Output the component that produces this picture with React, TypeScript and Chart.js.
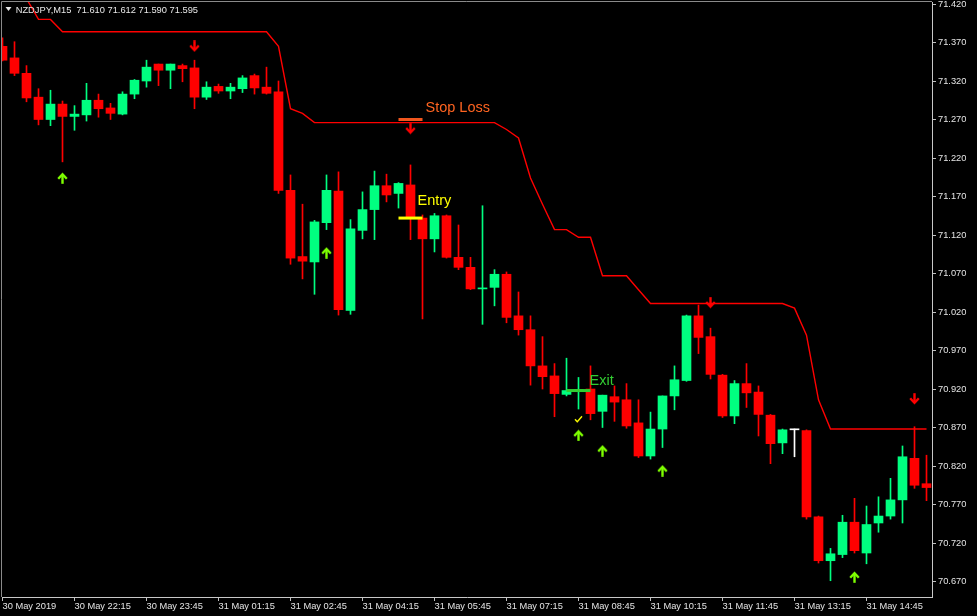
import React, { useEffect, useRef } from 'react';
import { Chart, registerables } from 'chart.js';

Chart.register(...registerables);

// ---------- data (NZDJPY M15, bar index 0 = 30 May 2019 20:45) ----------
const openPrices = [
  71.365, 71.350, 71.330, 71.299, 71.270, 71.290, 71.274, 71.276, 71.295, 71.285,
  71.277, 71.303, 71.320, 71.342, 71.334, 71.340, 71.337, 71.299, 71.313, 71.307,
  71.310, 71.327, 71.312, 71.306, 71.178, 71.092, 71.085, 71.136, 71.177, 71.022,
  71.126, 71.153, 71.184, 71.174, 71.185, 71.142, 71.115, 71.145, 71.091, 71.078,
  71.050, 71.052, 71.069, 71.015, 70.997, 70.950, 70.937, 70.913, 70.918, 70.920,
  70.891, 70.910, 70.906, 70.876, 70.833, 70.868, 70.911, 70.931, 71.015, 70.988,
  70.938, 70.885, 70.927, 70.916, 70.886, 70.850, 70.867, 70.866, 70.754, 70.697,
  70.705, 70.747, 70.707, 70.746, 70.755, 70.776, 70.830, 70.797,
];
const highPrices = [
  71.376, 71.371, 71.340, 71.310, 71.308, 71.294, 71.288, 71.317, 71.303, 71.291,
  71.306, 71.322, 71.347, 71.342, 71.342, 71.342, 71.347, 71.319, 71.316, 71.317,
  71.327, 71.329, 71.338, 71.320, 71.198, 71.160, 71.139, 71.198, 71.202, 71.140,
  71.176, 71.203, 71.199, 71.188, 71.211, 71.146, 71.148, 71.146, 71.133, 71.091,
  71.158, 71.075, 71.072, 71.046, 71.015, 70.988, 70.953, 70.960, 70.935, 70.950,
  70.912, 70.924, 70.927, 70.906, 70.890, 70.911, 70.950, 71.016, 71.029, 70.999,
  70.939, 70.931, 70.953, 70.924, 70.887, 70.868, 70.868, 70.867, 70.755, 70.713,
  70.756, 70.778, 70.768, 70.780, 70.804, 70.846, 70.871, 70.834,
];
const lowPrices = [
  71.346, 71.327, 71.293, 71.263, 71.262, 71.215, 71.256, 71.268, 71.273, 71.270,
  71.276, 71.297, 71.312, 71.314, 71.310, 71.319, 71.284, 71.296, 71.304, 71.297,
  71.305, 71.303, 71.303, 71.174, 71.082, 71.063, 71.043, 71.127, 71.016, 71.017,
  71.115, 71.114, 71.163, 71.155, 71.114, 71.011, 71.098, 71.090, 71.075, 71.049,
  71.004, 71.028, 71.006, 70.990, 70.925, 70.920, 70.884, 70.911, 70.894, 70.880,
  70.870, 70.878, 70.869, 70.831, 70.829, 70.844, 70.893, 70.930, 70.966, 70.933,
  70.883, 70.875, 70.896, 70.859, 70.823, 70.836, 70.832, 70.751, 70.694, 70.671,
  70.701, 70.707, 70.693, 70.734, 70.751, 70.746, 70.791, 70.775,
];
const closePrices = [
  71.347, 71.330, 71.298, 71.270, 71.290, 71.274, 71.277, 71.295, 71.284, 71.278,
  71.303, 71.321, 71.338, 71.334, 71.342, 71.336, 71.299, 71.312, 71.307, 71.312,
  71.324, 71.311, 71.304, 71.178, 71.090, 71.086, 71.137, 71.178, 71.023, 71.128,
  71.153, 71.184, 71.172, 71.187, 71.142, 71.115, 71.145, 71.091, 71.078, 71.050,
  71.051, 71.069, 71.013, 70.997, 70.950, 70.936, 70.914, 70.918, 70.919, 70.888,
  70.912, 70.903, 70.872, 70.833, 70.868, 70.911, 70.932, 71.015, 70.987, 70.939,
  70.885, 70.927, 70.915, 70.887, 70.849, 70.867, 70.867, 70.754, 70.697, 70.706,
  70.747, 70.710, 70.744, 70.755, 70.776, 70.832, 70.795, 70.792,
];
const trailingStop = [
  71.427, 71.427, 71.427, 71.400, 71.400, 71.384, 71.384, 71.384, 71.384, 71.384,
  71.384, 71.384, 71.384, 71.384, 71.384, 71.384, 71.384, 71.384, 71.384, 71.384,
  71.384, 71.384, 71.384, 71.365, 71.284, 71.278, 71.266, 71.266, 71.266, 71.266,
  71.266, 71.266, 71.266, 71.266, 71.266, 71.266, 71.266, 71.266, 71.266, 71.266,
  71.266, 71.266, 71.257, 71.246, 71.194, 71.160, 71.127, 71.127, 71.117, 71.117,
  71.067, 71.067, 71.067, 71.049, 71.031, 71.031, 71.031, 71.031, 71.031, 71.031,
  71.031, 71.031, 71.031, 71.031, 71.031, 71.031, 71.025, 70.990, 70.906, 70.868,
  70.868, 70.868, 70.868, 70.868, 70.868, 70.868, 70.868, 70.868,
];

const upArrowBars = [5, 27, 48, 50, 55, 71];
const upArrowPrices = [71.194, 71.097, 70.860, 70.840, 70.814, 70.676];
const downArrowBars = [16, 34, 59, 76];
const downArrowPrices = [71.365, 71.258, 71.032, 70.907];
const checkBars = [48];
const checkPrices = [70.881];

const levelNames = ['Stop Loss', 'Entry', 'Exit'];
const levelPrices = [71.270, 71.142, 70.918];
const levelStartBars = [33, 33, 47];
const levelEndBars = [35, 35, 49];

const xTickBars = [0, 6, 12, 18, 24, 30, 36, 42, 48, 54, 60, 66, 72];
const xTickLabels = [
  '30 May 2019', '30 May 22:15', '30 May 23:45', '31 May 01:15', '31 May 02:45',
  '31 May 04:15', '31 May 05:45', '31 May 07:15', '31 May 08:45', '31 May 10:15',
  '31 May 11:45', '31 May 13:15', '31 May 14:45',
];
const yTickValues = [
  70.670, 70.720, 70.770, 70.820, 70.870, 70.920, 70.970, 71.020,
  71.070, 71.120, 71.170, 71.220, 71.270, 71.320, 71.370, 71.420,
];
const titleText = 'NZDJPY,M15  71.610 71.612 71.590 71.595';

const yMin = 70.64987;
const yMax = 71.4226;
const xMin = -1 / 24;
const xMax = 77.5 - 1 / 24;

// ---------- styles ----------
const BULL = '#00FF80';
const BEAR = '#FF0000';
const DOJI = '#FFFFFF';
const AXIS_FONT = { family: "'Liberation Sans', Arial, sans-serif", size: 9.3 };
const LABEL_COLOR = '#E4E4E4';
const levelLineColors = ['#F0561E', '#FFFF00', '#32CD32'];
const levelTextColors = ['#FF6420', '#FFFF00', '#32CD32'];
const levelTextDx = [3, -5, -1];
const levelTextDy = [-7.4, -13.4, -5.5];

function makeArrow(color: string, up: boolean): HTMLCanvasElement {
  const c = document.createElement('canvas');
  c.width = 11;
  c.height = 12;
  const g = c.getContext('2d')!;
  if (!up) {
    g.translate(0, 12);
    g.scale(1, -1);
  }
  g.strokeStyle = color;
  g.lineWidth = 2.4;
  g.beginPath();
  g.moveTo(5.5, 3);
  g.lineTo(5.5, 11.8);
  g.stroke();
  g.beginPath();
  g.moveTo(1.2, 6.8);
  g.lineTo(5.5, 2.2);
  g.lineTo(9.8, 6.8);
  g.stroke();
  return c;
}

function makeCheck(color: string): HTMLCanvasElement {
  const c = document.createElement('canvas');
  c.width = 9;
  c.height = 8;
  const g = c.getContext('2d')!;
  g.strokeStyle = color;
  g.lineWidth = 1.4;
  g.beginPath();
  g.moveTo(1, 4.2);
  g.lineTo(3.3, 6.8);
  g.lineTo(8, 1.2);
  g.stroke();
  return c;
}

const overlayPlugin = {
  id: 'mt4Overlay',
  beforeDraw(chart: any) {
    const { ctx, width, height } = chart;
    ctx.save();
    ctx.fillStyle = '#000000';
    ctx.fillRect(0, 0, width, height);
    ctx.restore();
  },
  afterDraw(chart: any) {
    const { ctx, chartArea: a, scales } = chart;
    ctx.save();
    ctx.strokeStyle = '#8A8A8A';
    ctx.lineWidth = 1;
    ctx.beginPath();
    ctx.moveTo(a.left - 0.5, a.bottom);
    ctx.lineTo(a.left - 0.5, a.top - 0.5);
    ctx.lineTo(a.right, a.top - 0.5);
    ctx.stroke();

    ctx.font = "14.5px 'Liberation Sans', Arial, sans-serif";
    ctx.textAlign = 'left';
    ctx.textBaseline = 'alphabetic';
    levelNames.forEach((name, k) => {
      const x = scales.x.getPixelForValue(levelEndBars[k]) + levelTextDx[k];
      const y = scales.y.getPixelForValue(levelPrices[k]) + levelTextDy[k];
      ctx.fillStyle = levelTextColors[k];
      ctx.fillText(name, x, y);
    });

    // title
    ctx.fillStyle = '#E8E8E8';
    ctx.beginPath();
    ctx.moveTo(5.5, 7);
    ctx.lineTo(11.5, 7);
    ctx.lineTo(8.5, 11);
    ctx.closePath();
    ctx.fill();
    ctx.font = "9.3px 'Liberation Sans', Arial, sans-serif";
    ctx.fillText(titleText, 15.7, 12.6);
    ctx.restore();
  },
};

export default function App() {
  const ref = useRef<HTMLCanvasElement>(null);

  useEffect(() => {
    document.body.style.margin = '0';
    document.body.style.background = '#000';
    const canvas = ref.current;
    if (!canvas) return;

    const idx = openPrices.map((_, i) => i);
    const colors = idx.map((i) =>
      closePrices[i] > openPrices[i] ? BULL : closePrices[i] < openPrices[i] ? BEAR : DOJI
    );
    const upImg = makeArrow('#7FFF00', true);
    const downImg = makeArrow('#FF0000', false);
    const checkImg = makeCheck('#FFFF00');

    const levelDatasets = levelNames.map((name, k) => ({
      type: 'line' as const,
      label: name,
      data: [
        { x: levelStartBars[k], y: levelPrices[k] },
        { x: levelEndBars[k], y: levelPrices[k] },
      ],
      borderColor: levelLineColors[k],
      borderWidth: 3,
      pointRadius: 0,
      order: 0,
    }));

    const chart = new Chart(canvas, {
      type: 'bar',
      data: {
        datasets: [
          {
            type: 'line',
            label: 'Trailing stop',
            data: idx.map((i) => ({ x: i, y: trailingStop[i] })),
            borderColor: '#FF0000',
            borderWidth: 1.4,
            pointRadius: 0,
            tension: 0,
            order: 3,
          },
          {
            type: 'bar',
            label: 'Wicks',
            data: idx.map((i) => ({ x: i, y: [lowPrices[i], highPrices[i]] })),
            backgroundColor: colors,
            borderWidth: 0,
            barThickness: 1,
            grouped: false,
            order: 2,
          },
          {
            type: 'bar',
            label: 'Bodies',
            data: idx.map((i) => ({ x: i, y: [openPrices[i], closePrices[i]] })),
            backgroundColor: colors,
            borderWidth: 0,
            barThickness: 9,
            minBarLength: 1,
            grouped: false,
            order: 1,
          },
          ...levelDatasets,
          {
            type: 'line',
            label: 'Up arrows',
            data: upArrowBars.map((b, k) => ({ x: b, y: upArrowPrices[k] })),
            showLine: false,
            pointStyle: upImg,
            pointRadius: 5,
            order: 0,
          },
          {
            type: 'line',
            label: 'Down arrows',
            data: downArrowBars.map((b, k) => ({ x: b, y: downArrowPrices[k] })),
            showLine: false,
            pointStyle: downImg,
            pointRadius: 5,
            order: 0,
          },
          {
            type: 'line',
            label: 'Exit mark',
            data: checkBars.map((b, k) => ({ x: b, y: checkPrices[k] })),
            showLine: false,
            pointStyle: checkImg,
            pointRadius: 5,
            order: 0,
          },
        ] as any,
      },
      options: {
        responsive: false,
        animation: false,
        devicePixelRatio: 1,
        events: [],
        layout: { autoPadding: false, padding: { left: 2, top: 2, right: 0, bottom: 0 } },
        plugins: { legend: { display: false }, tooltip: { enabled: false }, title: { display: false } },
        scales: {
          x: {
            type: 'linear',
            min: xMin,
            max: xMax,
            offset: false,
            afterFit: (s: any) => {
              s.height = 19;
              s.paddingLeft = 0;
              s.paddingRight = 0;
              s.paddingTop = 0;
              s.paddingBottom = 0;
            },
            afterBuildTicks: (s: any) => {
              s.ticks = xTickBars.map((v) => ({ value: v }));
            },
            ticks: {
              callback: (_v: any, i: number) => xTickLabels[i],
              align: 'start',
              maxRotation: 0,
              minRotation: 0,
              autoSkip: false,
              padding: 0,
              color: LABEL_COLOR,
              font: AXIS_FONT,
            },
            grid: { drawOnChartArea: false, drawTicks: true, tickLength: 4, color: '#C0C0C0', offset: false },
            border: { display: true, color: '#C8C8C8', width: 1 },
          },
          y: {
            type: 'linear',
            position: 'right',
            min: yMin,
            max: yMax,
            afterFit: (s: any) => {
              s.width = 45;
              s.paddingTop = 0;
              s.paddingBottom = 0;
              s.paddingLeft = 0;
              s.paddingRight = 0;
            },
            afterBuildTicks: (s: any) => {
              s.ticks = yTickValues.map((v) => ({ value: v }));
            },
            ticks: {
              callback: (v: any) => Number(v).toFixed(3),
              autoSkip: false,
              padding: 2,
              color: LABEL_COLOR,
              font: AXIS_FONT,
            },
            grid: { drawOnChartArea: false, drawTicks: true, tickLength: 4, color: '#C0C0C0' },
            border: { display: true, color: '#C8C8C8', width: 1 },
          },
        },
      } as any,
      plugins: [overlayPlugin],
    });

    return () => {
      chart.destroy();
    };
  }, []);

  return (
    <div style={{ position: 'fixed', left: 0, top: 0, width: 977, height: 616, background: '#000' }}>
      <canvas ref={ref} width={977} height={616} style={{ display: 'block', width: 977, height: 616 }} />
    </div>
  );
}
